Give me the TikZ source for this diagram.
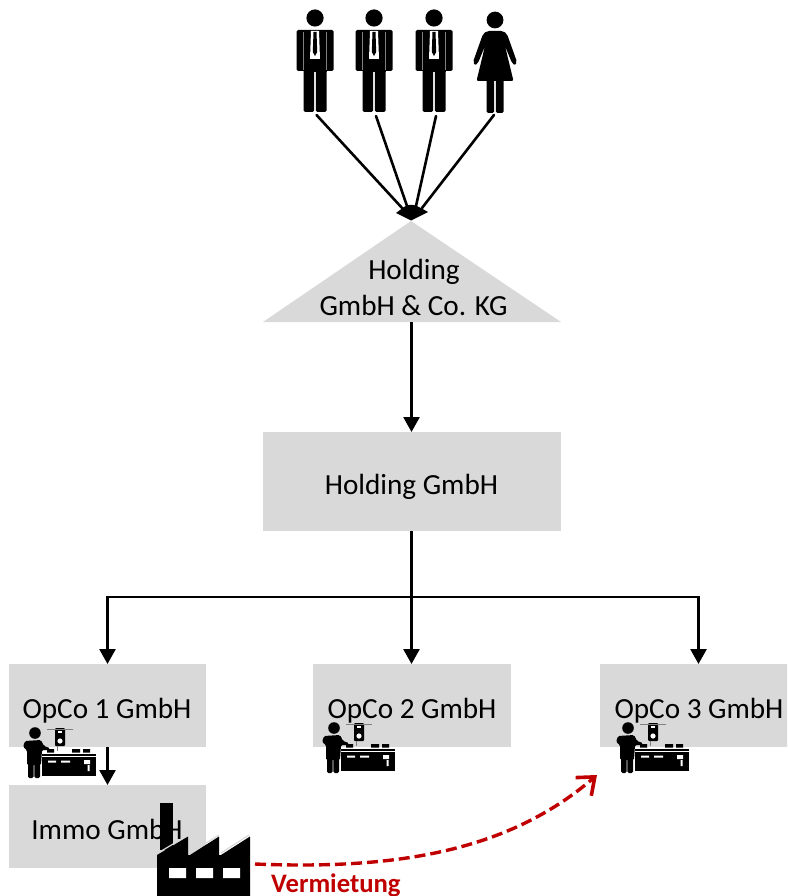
\documentclass[tikz,border=0pt]{standalone}
\usepackage{fontspec}
\setmainfont{Carlito}
\usetikzlibrary{arrows.meta}
\definecolor{boxgray}{HTML}{D9D9D9}
\definecolor{rentred}{HTML}{C00000}
\tikzset{
  box/.style={fill=boxgray,inner sep=0pt,outer sep=0pt},
  lbl/.style={inner sep=0pt,font=\fontsize{29.2}{33}\selectfont,text=black,align=center},
  conn/.style={line width=2.7pt,draw=black,-{Triangle[length=15pt,width=16pt]}},
  plain/.style={line width=2.7pt,draw=black},
  owner/.style={line width=2.6pt,draw=black,line cap=round},
  man/.pic={
    \fill (0,18) circle (8.6);
    \fill[rounded corners=1.5pt] (-18.5,30) rectangle (18.5,71);
    \fill[rounded corners=1.5pt] (-11.5,50) rectangle (-.8,112);
    \fill[rounded corners=1.5pt] (.8,50) rectangle (11.5,112);
    \fill (-11.5,50) rectangle (11.5,72);
    \draw[gray,line width=.6pt] (-11.5,32) -- (-11.5,70) (11.5,32) -- (11.5,70);
    \fill[white] (-4,31) -- (4,31) -- (5,59) -- (-5,59) -- cycle;
    \fill (-1.5,32) -- (1.5,32) -- (2.2,52) -- (0,56) -- (-2.2,52) -- cycle;
  },
  woman/.pic={
    \fill (0,20) circle (8.4);
    \fill[rounded corners=2pt] (-8,31) -- (8,31) -- (12,34) -- (22,62) -- (20,65.5) -- (17,63) -- (10,46) -- (18.5,81) -- (-18.5,81) -- (-10,46) -- (-17,63) -- (-20,65.5) -- (-22,62) -- (-12,34) -- cycle;
    \fill[rounded corners=1.5pt] (-8.5,78) rectangle (-.8,113);
    \fill[rounded corners=1.5pt] (.8,78) rectangle (8.5,113);
  },
  worker/.pic={
    \fill (35,733) circle (5.8);
    \fill[rounded corners=1.5pt] (23,747) -- (25,741) -- (41,740) -- (44,746) -- (50,748) -- (49,750) -- (42,750) -- (41,765) -- (27,765) -- (27,750) -- cycle;
    \fill[rounded corners=1.5pt] (28,760) rectangle (33.7,778);
    \fill[rounded corners=1.5pt] (34.3,760) rectangle (40,778);
    \fill (42,757) rectangle (96,776);
    \fill (42,754) rectangle (96,755.5);
    \fill (47,749) rectangle (54,752.5) (72,749) rectangle (80,752.5) (83,749) rectangle (90,752.5);
    \fill[white] (48,760.5) rectangle (56,762.5) (61,760.5) rectangle (70,762.5);
    \fill[white] (84,760) rectangle (90,764) (87.5,765) rectangle (89.5,771);
    \fill[rounded corners=1pt] (55,728) rectangle (65,746);
    \fill[white] (60,741) circle (2.6);
    \fill[white] (58,731) rectangle (62,733);
    \draw[gray,line width=.7pt] (47,729.5) -- (73,729.5) (57,746) -- (57,751);
  },
}
\begin{document}
\begin{tikzpicture}[x=1pt,y=-1pt]
\useasboundingbox (0,0) rectangle (787,896);
\clip (0,0) rectangle (787,896);
\fill[white] (0,0) rectangle (787,896);

% boxes
\fill[boxgray] (411,221) -- (561,322) -- (263,322) -- cycle;
\coordinate (hkgbase) at (411.5,322);
\node[lbl,anchor=base] (hkgtext) at (414,279) {Holding};
\node[lbl,anchor=base] (hkgtext2) at (413.5,315) {GmbH \& Co. KG};

\node[box,minimum width=298pt,minimum height=99pt] (hold) at (412,481.5) {};
\node[lbl,anchor=base] (holdtext) at (411.5,494) {Holding GmbH};
\node[box,minimum width=197pt,minimum height=83pt] (op1) at (107.5,705.5) {};
\node[box,minimum width=198pt,minimum height=83pt] (op2) at (412,705.5) {};
\node[box,minimum width=197pt,minimum height=83pt] (op3) at (698.5,705.5) {};
\node[box,minimum width=197pt,minimum height=83pt] (immo) at (107.5,826.5) {};
\node[lbl,anchor=base] (op1text) at (107,718) {OpCo 1 GmbH};
\node[lbl,anchor=base] (op2text) at (412,718) {OpCo 2 GmbH};
\node[lbl,anchor=base] (op3text) at (699,718) {OpCo 3 GmbH};
\node[lbl,anchor=base] (immotext) at (107,839) {Immo GmbH};

% connectors
\draw[conn] (hkgbase) -- (hold.north -| hkgbase);
\coordinate (bus) at (411.5,597);
\draw[plain] (hold.south -| bus) -- (bus);
\draw[conn] (bus) -- (op2.north -| bus);
\draw[conn] (bus) -- (op1.north |- bus) -- (op1.north);
\draw[conn] (bus) -- (op3.north |- bus) -- (op3.north);
\draw[conn] (op1.south) -- (immo.north);

% owners
\path (315,0) pic {man} (374,0) pic {man} (434,0) pic {man} (495,0) pic {woman};
\coordinate (o1) at (316.5,115);
\coordinate (o2) at (376,116);
\coordinate (o3) at (436,116);
\coordinate (o4) at (494,115);
\coordinate (d1) at (403,209);
\coordinate (d2) at (407,206);
\coordinate (d3) at (416,206);
\coordinate (d4) at (422,208);
\draw[owner] (o1) -- (d1);
\draw[owner] (o2) -- (d2);
\draw[owner] (o3) -- (d3);
\draw[owner] (o4) -- (d4);
\fill (396,213) -- (404,207) .. controls (408,204) and (414,204) .. (419,207) -- (428,212) -- (411,220.5) -- cycle;

% worker icons
\path (0,0) pic {worker} (299,-5) pic {worker} (593,-5) pic {worker};

% factory
\fill (160,803) rectangle (173,850);
\fill (157,855) -- (188,836.5) -- (188,855) -- (190,855) -- (219,836.5) -- (219,855) -- (221,855) -- (250,836.5) -- (250,896) -- (157,896) -- cycle;
\draw[boxgray,line width=1.2pt] (158,853) -- (188,835) (190,853) -- (219,835) (221,853) -- (249,835);
\fill[white] (169,868) rectangle (186,878) (196,868) rectangle (213,878) (223,868) rectangle (240,878);

% rent
\coordinate (rentfrom) at (255,864);
\coordinate (rentto) at (597,775);
\draw[rentred,line width=3.4pt,dash pattern=on 11pt off 5pt,-{Straight Barb[length=15pt,width=24pt,line width=3.6pt]}]
  (rentfrom) .. controls (400,870) and (510,850) .. (rentto);
\node[inner sep=0pt,anchor=base west,text=rentred,font=\bfseries\fontsize{26.7}{31}\selectfont] (rent) at (271,892) {Vermietung};
\end{tikzpicture}
\end{document}
